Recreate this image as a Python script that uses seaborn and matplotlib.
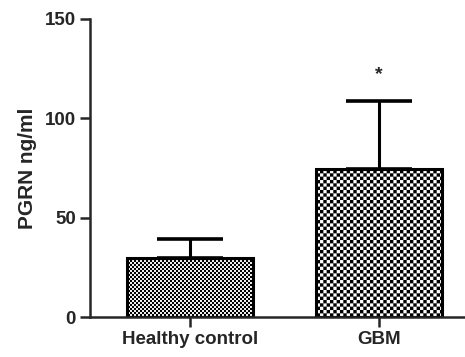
import matplotlib
matplotlib.use("Agg")
import matplotlib.pyplot as plt
import matplotlib.hatch as mhatch
from matplotlib.path import Path
import seaborn as sns
import pandas as pd

groups = ["Healthy control", "GBM"]
means = [29.8, 74.5]
errors = [9.5, 34.2]
star_value = 122


class CheckerHatch(mhatch.HatchPatternBase):
    """Checkerboard fill: n cells per hatch unit, n = 2 * count('x')."""
    def __init__(self, hatch, density):
        self.n = 2 * hatch.count('x')
        self.num_vertices = (self.n * self.n // 2) * 5

    def set_vertices_and_codes(self, vertices, codes):
        n = self.n
        s = 1.0 / n
        k = 0
        for i in range(n):
            for j in range(n):
                if (i + j) % 2 == 0:
                    x0, y0 = i * s, j * s
                    vertices[k:k + 5] = [(x0, y0), (x0 + s, y0), (x0 + s, y0 + s),
                                         (x0, y0 + s), (x0, y0)]
                    codes[k:k + 5] = [Path.MOVETO, Path.LINETO, Path.LINETO,
                                      Path.LINETO, Path.CLOSEPOLY]
                    k += 5


mhatch._hatch_types = [CheckerHatch]

sns.set_style("white")
plt.rcParams['font.family'] = ['Liberation Sans', 'DejaVu Sans']
plt.rcParams['hatch.linewidth'] = 0.05

df = pd.DataFrame({"group": groups, "value": means})

fig = plt.figure(figsize=(4.65, 3.57), dpi=100)
ax = fig.add_axes([0.1935, 0.112, 0.8065, 0.835])

sns.barplot(data=df, x="group", y="value", ax=ax, errorbar=None,
            color="white", edgecolor="black", linewidth=2.2, width=0.67)
hatches = ["x" * 25, "x" * 15]
for p, h in zip(ax.patches, hatches):
    p.set_hatch(h)
    if hasattr(p, "set_hatch_linewidth"):
        p.set_hatch_linewidth(0.05)

ax.errorbar(range(len(groups)), means, yerr=[[0]*len(errors), errors],
            fmt="none", ecolor="black", elinewidth=2.2, capsize=24, capthick=2.6)

ax.text(1, star_value, "*", ha="center", va="center", fontsize=14, fontweight="bold")

ax.set_xlim(-0.529, 1.455)
ax.set_ylim(0, 150)
ax.set_yticks([0, 50, 100, 150])
ax.set_xlabel("")
ax.set_ylabel("PGRN ng/ml", fontsize=15, fontweight="bold", labelpad=6)
for lab in ax.get_xticklabels() + ax.get_yticklabels():
    lab.set_fontweight("bold")
    lab.set_fontsize(13.5)
sns.despine(ax=ax, top=True, right=True)
for s in ["left", "bottom"]:
    ax.spines[s].set_linewidth(1.8)
ax.tick_params(axis="both", direction="out", length=7, width=1.8, left=True, bottom=True, pad=3)

fig.savefig("out.png", dpi=100)
